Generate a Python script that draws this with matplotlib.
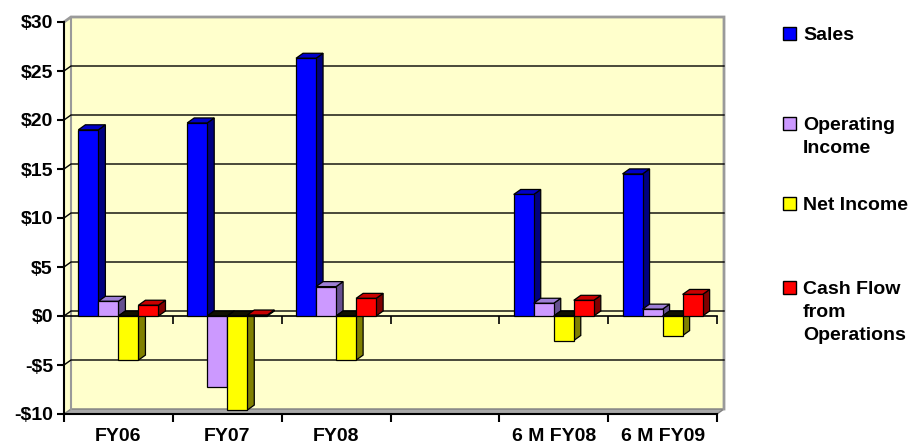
import numpy as np
import matplotlib.pyplot as plt
from matplotlib.patches import Polygon, Rectangle

# ---- data (values in $ millions) ----
categories = ['FY06', 'FY07', 'FY08', '', '6 M FY08', '6 M FY09']
series_names = ['Sales', 'Operating\nIncome', 'Net Income', 'Cash Flow\nfrom\nOperations']
sales = [19.0, 19.7, 26.3, np.nan, 12.4, 14.5]
operating_income = [1.5, -7.2, 3.0, np.nan, 1.3, 0.7]
net_income = [-4.5, -9.6, -4.5, np.nan, -2.5, -2.0]
cash_flow = [1.1, 0.1, 1.8, np.nan, 1.6, 2.2]
yticks = [-10, -5, 0, 5, 10, 15, 20, 25, 30]

series = [sales, operating_income, net_income, cash_flow]
front_colors = ['#0000FF', '#CC99FF', '#FFFF00', '#FF0000']
side_colors = ['#000080', '#66508F', '#808000', '#800000']
top_colors = ['#0000C8', '#9E7FD6', '#C8C800', '#C80000']

plt.rcParams['font.family'] = ['Liberation Sans', 'DejaVu Sans']
plt.rcParams['font.weight'] = 'bold'
plt.rcParams['font.size'] = 14

W, H = 924, 446
fig = plt.figure(figsize=(W / 100, H / 100), dpi=100)
ax = fig.add_axes([64 / W, (H - 414) / H, 653 / W, 392 / H])
ax.set_facecolor('none')

x0, x1 = -0.5, len(categories) - 0.5
y0, y1 = -10, 30
ax.set_xlim(x0, x1)
ax.set_ylim(y0, y1)

# depth of the fake 3d look, in data units (7px right, 5px up)
dx = 7 * (x1 - x0) / 653
dy = 5 * (y1 - y0) / 392

wall = '#FFFFCC'
edge_gray = '#9A9A9A'

# back wall + left wall + floor
ax.add_patch(Rectangle((x0 + dx, y0 + dy), x1 - x0, y1 - y0, fc=wall, ec='none',
                       zorder=0, clip_on=False))
ax.add_patch(Polygon([(x0, y0), (x0, y1), (x0 + dx, y1 + dy), (x0 + dx, y0 + dy)],
                     fc=wall, ec='none', zorder=0, clip_on=False))
ax.add_patch(Polygon([(x0, y0), (x1, y0), (x1 + dx, y0 + dy), (x0 + dx, y0 + dy)],
                     fc='#A8A8A8', ec='#7F7F7F', lw=1, zorder=1, clip_on=False))
ax.plot([x0, x0 + dx, x1 + dx, x1 + dx], [y1, y1 + dy, y1 + dy, y0 + dy],
        color=edge_gray, lw=2, zorder=1, clip_on=False, solid_joinstyle='miter')
ax.plot([x0 + dx, x0 + dx], [y0 + dy, y1 + dy], color=edge_gray, lw=1.5,
        zorder=1, clip_on=False)

# gridlines on the walls
for yv in yticks[1:-1]:
    ax.plot([x0, x0 + dx, x1 + dx], [yv, yv + dy, yv + dy], color='black', lw=1,
            zorder=1, clip_on=False)

# zero line at the front with its ticks
ax.plot([x0, x1], [0, 0], color='black', lw=1.2, zorder=2, clip_on=False)
ax.vlines(np.arange(len(categories) + 1) - 0.5, 0, -0.8, color='black', lw=1.2,
          zorder=2, clip_on=False)

# bars
n = len(series)
w = 0.184
for k, vals in enumerate(series):
    pos = np.arange(len(categories)) + (k - (n - 1) / 2) * w
    bars = ax.bar(pos, vals, width=w, color=front_colors[k], edgecolor='black',
                  linewidth=0.9)
    for i, (p, v) in enumerate(zip(bars, vals)):
        if np.isnan(v):
            continue
        z = 3 + (i * n + k) * 0.01
        p.set_zorder(z + 0.002)
        bl, br = pos[i] - w / 2, pos[i] + w / 2
        lo, hi = min(0, v), max(0, v)
        ax.add_patch(Polygon([(br, lo), (br + dx, lo + dy), (br + dx, hi + dy), (br, hi)],
                             fc=side_colors[k], ec='black', lw=0.9, zorder=z))
        tc = top_colors[k] if v >= 0 else '#101000'
        ax.add_patch(Polygon([(bl, hi), (br, hi), (br + dx, hi + dy), (bl + dx, hi + dy)],
                             fc=tc, ec='black', lw=0.9, zorder=z + 0.001))

# axes styling
for s in ['top', 'right']:
    ax.spines[s].set_visible(False)
ax.spines['left'].set_linewidth(1.5)
ax.spines['bottom'].set_linewidth(1.5)
ax.spines['left'].set_zorder(5)
ax.spines['bottom'].set_zorder(5)

ax.set_yticks(yticks)
ax.set_yticklabels([('-$%d' % -t) if t < 0 else ('$%d' % t) for t in yticks])
ax.tick_params(axis='y', length=5, width=1.5, pad=3)

ax.set_xticks(np.arange(len(categories)))
ax.set_xticklabels(categories)
ax.set_xticks(np.arange(len(categories) + 1) - 0.5, minor=True)
ax.tick_params(axis='x', which='major', length=0, pad=10)
ax.tick_params(axis='x', which='minor', length=6, width=1.5)

# legend on the right
legend_y = [33, 123, 203, 287]
for k, name in enumerate(series_names):
    yc = legend_y[k]
    fig.add_artist(Rectangle((783 / W, 1 - (yc + 6.5) / H), 13 / W, 13 / H,
                             transform=fig.transFigure, fc=front_colors[k],
                             ec='black', lw=1))
    fig.text(803 / W, 1 - (yc - 6) / H, name, ha='left', va='top',
             fontsize=14, fontweight='bold', linespacing=1.45)

fig.savefig('out.png', dpi=100)
